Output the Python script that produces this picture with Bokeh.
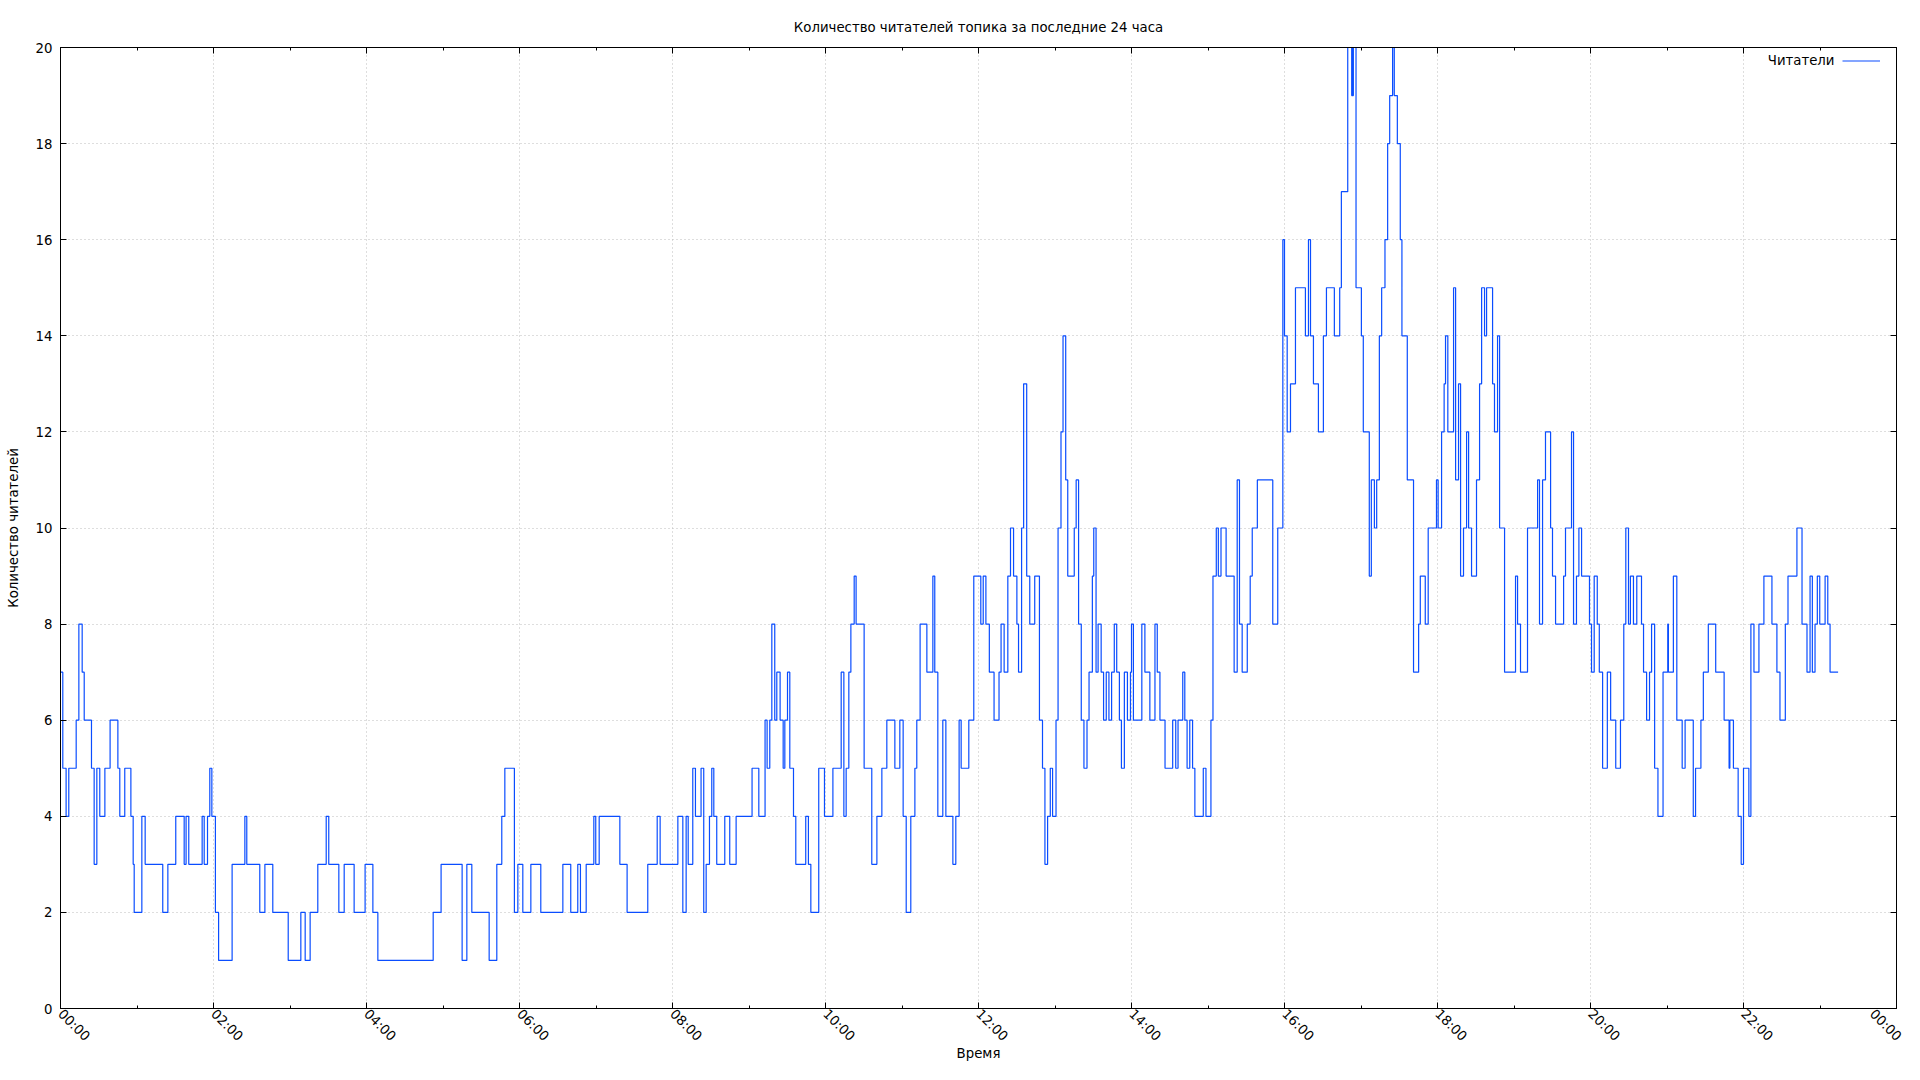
import math
from bokeh.plotting import figure
from bokeh.models import Range1d, LinearAxis, FixedTicker, Legend, LegendItem, Label
from bokeh.embed import file_html
from bokeh.resources import INLINE

# ---------------- data ----------------
chart_title = "Количество читателей топика за последние 24 часа"
x_label = "Время"
y_label = "Количество читателей"
series_name = "Читатели"

hour_ticks = [0, 120, 240, 360, 480, 600, 720, 840, 960, 1080, 1200, 1320, 1440]
hour_labels = ["00:00", "02:00", "04:00", "06:00", "08:00", "10:00", "12:00",
               "14:00", "16:00", "18:00", "20:00", "22:00", "00:00"]
hour_minor = [60, 180, 300, 420, 540, 660, 780, 900, 1020, 1140, 1260, 1380]
y_ticks = [0, 2, 4, 6, 8, 10, 12, 14, 16, 18, 20]

# minutes since 00:00 where the reader count changes
t_min = [
    0, 1.8, 4.4, 6.5, 12.3, 14.4, 17.0, 18.6, 24.3, 26.4, 28.5, 30.8, 34.8, 38.9, 45.0, 46.5,
    50.4, 55.2, 57.0, 57.8, 63.8, 66.4, 80.2, 84.2, 90.4, 97.0, 98.5, 100.6, 111.1, 112.7,
    115.3, 117.1, 118.7, 121.5, 124.0, 134.6, 144.6, 146.1, 156.3, 160.3, 166.5, 178.6,
    188.5, 191.9, 195.8, 201.8, 208.4, 210.4, 218.3, 222.5, 230.3, 238.9, 245.0, 248.9,
    292.3, 298.5, 315.0, 318.7, 322.6, 336.2, 342.2, 346.1, 348.5, 356.0, 358.7, 362.6,
    368.9, 376.7, 394.0, 400.2, 405.7, 407.8, 412.3, 418.3, 419.8, 422.5, 438.7, 444.4,
    460.6, 468.0, 470.3, 484.2, 488.1, 490.7, 492.3, 495.9, 498.0, 502.4, 504.5, 506.4,
    509.0, 510.8, 512.4, 514.7, 521.0, 524.9, 529.9, 542.4, 547.7, 552.6, 554.2, 556.3,
    557.9, 560.2, 561.8, 564.4, 566.8, 568.1, 570.2, 572.0, 574.9, 576.7, 584.5, 586.6,
    588.5, 594.7, 599.2, 605.8, 612.3, 614.4, 616.2, 618.3, 619.9, 622.5, 624.0, 630.3,
    636.3, 640.3, 644.2, 648.1, 654.4, 658.3, 660.9, 663.3, 666.9, 670.1, 671.6, 674.2,
    679.5, 684.2, 685.7, 688.1, 692.0, 694.4, 699.9, 702.2, 704.8, 706.4, 712.4, 716.3,
    721.8, 723.7, 725.8, 728.5, 732.2, 736.1, 737.7, 740.1, 743.0, 745.1, 747.5, 750.1,
    751.4, 753.8, 755.4, 757.8, 760.2, 764.1, 767.8, 770.2, 772.1, 774.2, 776.3, 778.1,
    780.8, 782.4, 784.7, 786.3, 788.4, 790.0, 795.1, 796.6, 798.5, 800.6, 802.7, 805.1,
    806.7, 809.3, 810.4, 812.2, 813.8, 816.2, 818.1, 820.2, 822.3, 824.4, 826.5, 828.4,
    830.5, 832.1, 834.4, 836.8, 839.2, 840.0, 841.5, 848.1, 850.5, 854.4, 858.4, 860.2,
    862.3, 866.3, 872.3, 874.7, 876.5, 880.2, 881.8, 883.6, 885.7, 887.9, 889.7, 896.3,
    898.4, 902.3, 903.9, 906.5, 908.1, 910.2, 914.2, 920.5, 922.9, 924.7, 926.8, 930.8,
    933.1, 934.7, 938.7, 950.8, 954.7, 958.7, 960.0, 962.1, 964.7, 968.6, 976.4, 978.8,
    980.4, 982.7, 986.6, 990.5, 992.9, 999.1, 1003.3, 1004.6, 1009.6, 1012.7, 1013.2, 1013.5,
    1014.0, 1016.1, 1020.3, 1021.8, 1026.5, 1028.1, 1030.5, 1032.3, 1034.4, 1036.2, 1038.8,
    1040.9, 1042.5, 1044.8, 1046.1, 1048.5, 1050.8, 1052.1, 1056.3, 1061.2, 1065.2, 1066.5,
    1070.4, 1072.7, 1079.2, 1080.5, 1083.2, 1085.2, 1086.3, 1088.1, 1092.6, 1094.2, 1096.5,
    1098.1, 1100.4, 1102.8, 1104.4, 1106.7, 1110.6, 1113.0, 1114.6, 1116.9, 1118.5, 1123.2,
    1124.7, 1127.1, 1128.7, 1132.6, 1141.2, 1142.8, 1145.1, 1150.6, 1158.5, 1160.0, 1162.4,
    1164.7, 1168.7, 1170.2, 1172.6, 1178.9, 1180.4, 1185.1, 1186.7, 1189.0, 1190.9, 1193.0,
    1199.2, 1200.8, 1202.9, 1205.3, 1206.9, 1209.5, 1213.2, 1215.8, 1219.8, 1223.5, 1226.1,
    1227.7, 1229.8, 1231.3, 1233.7, 1236.3, 1240.0, 1241.6, 1244.0, 1246.3, 1247.9, 1250.3,
    1252.9, 1256.9, 1260.6, 1261.1, 1265.0, 1267.7, 1271.9, 1274.2, 1280.6, 1282.4, 1286.6,
    1288.5, 1292.4, 1298.2, 1304.8, 1308.7, 1309.3, 1312.1, 1315.8, 1318.2, 1320.0, 1324.2,
    1325.8, 1328.2, 1332.1, 1336.0, 1342.3, 1346.2, 1348.6, 1352.8, 1354.9, 1361.9, 1365.9,
    1369.8, 1372.2, 1374.0, 1376.1, 1377.9, 1379.8, 1384.0, 1386.1, 1387.9, 1394.2,
]
readers = [
    7, 5, 4, 5, 6, 8, 7, 6, 5, 3, 5, 4, 5, 6, 5, 4,
    5, 4, 3, 2, 4, 3, 2, 3, 4, 3, 4, 3, 4, 3,
    4, 5, 4, 2, 1, 3, 4, 3, 2, 3, 2, 1,
    2, 1, 2, 3, 4, 3, 2, 3, 2, 3, 2, 1,
    2, 3, 1, 3, 2, 1, 3, 4, 5, 2, 3, 2,
    3, 2, 3, 2, 3, 2, 3, 4, 3, 4, 3, 2,
    3, 4, 3, 4, 2, 4, 3, 5, 4, 5, 2, 3,
    4, 5, 4, 3, 4, 3, 4, 5, 4, 6, 5, 6,
    8, 6, 7, 6, 5, 6, 7, 5, 4, 3, 4, 3,
    2, 5, 4, 5, 7, 4, 5, 7, 8, 9, 8, 5,
    3, 4, 5, 6, 5, 6, 4, 2, 4, 5, 6, 8,
    7, 9, 7, 4, 6, 4, 3, 4, 6, 5, 6, 9,
    8, 9, 8, 7, 6, 7, 8, 7, 9, 10, 9, 8,
    7, 10, 13, 9, 8, 9, 6, 5, 3, 4, 5, 4,
    6, 10, 12, 14, 11, 9, 10, 11, 8, 6, 5, 6,
    7, 9, 10, 7, 8, 7, 6, 7, 6, 7, 8, 7,
    6, 5, 7, 6, 7, 8, 6, 8, 7, 6, 8, 7,
    6, 5, 6, 5, 6, 7, 6, 5, 6, 5, 4, 5,
    4, 6, 9, 10, 9, 10, 9, 7, 11, 8, 7, 8,
    9, 10, 11, 8, 10, 16, 14, 12, 13, 15, 14, 16,
    14, 13, 12, 14, 15, 14, 15, 17, 20, 19, 20, 19,
    20, 15, 14, 12, 9, 11, 10, 11, 14, 15, 16,
    18, 19, 20, 19, 18, 16, 14, 11, 7, 8, 9,
    8, 10, 11, 10, 12, 13, 14, 12, 15, 11, 13,
    9, 10, 12, 10, 9, 11, 13, 15, 14, 15, 13,
    12, 14, 10, 7, 9, 8, 7, 10, 11, 8, 11,
    12, 10, 9, 8, 9, 10, 12, 8, 9, 10, 9,
    8, 7, 9, 8, 7, 5, 7, 6, 5, 6, 8,
    10, 8, 9, 8, 9, 8, 7, 6, 7, 8, 5,
    4, 7, 8, 7, 9, 6, 5, 6, 4, 5, 6,
    7, 8, 7, 6, 5, 6, 5, 4, 3, 5, 4,
    8, 7, 8, 9, 8, 7, 6, 8, 9, 10, 8,
    7, 9, 7, 8, 9, 8, 9, 8, 7, 7,
]

# ---------------- styling ----------------
FONT = "DejaVu Sans"
FS = "13.3px"
LINE_COLOR = "#0a4dff"
GRID_COLOR = "#bcbcbc"

p = figure(width=1904, height=1064, output_backend="svg", toolbar_location=None,
           x_range=Range1d(0, 1440), y_range=Range1d(0, 20),
           min_border_left=60, min_border_right=8, min_border_top=47, min_border_bottom=40,
           background_fill_color="white", border_fill_color="white")

p.title.text = chart_title
p.title.align = "center"
p.title.text_font = FONT
p.title.text_font_size = FS
p.title.text_font_style = "normal"
p.title.text_color = "black"
p.title.standoff = 25

p.outline_line_color = "black"
p.outline_line_width = 1

r = p.step(t_min, readers, mode="after", line_color=LINE_COLOR, line_width=1.2)

x_ticker = FixedTicker(ticks=hour_ticks, minor_ticks=hour_minor)
y_ticker = FixedTicker(ticks=y_ticks, minor_ticks=[])


def style_axis(ax):
    ax.major_tick_in = 6
    ax.major_tick_out = 0
    ax.minor_tick_in = 3
    ax.minor_tick_out = 0
    ax.axis_line_color = "black"
    ax.major_tick_line_color = "black"
    ax.minor_tick_line_color = "black"
    ax.major_label_text_font = FONT
    ax.major_label_text_font_size = FS
    ax.major_label_text_color = "black"
    ax.axis_label_text_font = FONT
    ax.axis_label_text_font_size = FS
    ax.axis_label_text_font_style = "normal"
    ax.axis_label_text_color = "black"


xa = p.xaxis[0]
xa.ticker = x_ticker
xa.major_label_overrides = {t: lab for t, lab in zip(hour_ticks, hour_labels)}
xa.major_label_orientation = -math.pi / 4
xa.axis_label = x_label
style_axis(xa)
xa.major_label_standoff = 3
xa.axis_label_standoff = -6

ya = p.yaxis[0]
ya.ticker = y_ticker
ya.axis_label = y_label
style_axis(ya)
ya.major_label_standoff = 8
ya.axis_label_standoff = 12

top = LinearAxis(ticker=x_ticker)
style_axis(top)
top.major_label_text_font_size = "0px"
top.major_label_standoff = 0
top.axis_label_standoff = 0
top.major_label_overrides = {t: "" for t in hour_ticks}
p.add_layout(top, "above")

right = LinearAxis(ticker=y_ticker)
style_axis(right)
right.major_label_text_font_size = "0px"
right.major_label_standoff = 0
right.axis_label_standoff = 0
right.major_label_overrides = {t: "" for t in y_ticks}
p.add_layout(right, "right")

p.xgrid.ticker = x_ticker
p.ygrid.ticker = y_ticker
for g in (p.xgrid[0], p.ygrid[0]):
    g.grid_line_color = GRID_COLOR
    g.grid_line_dash = "1 3"
    g.grid_line_width = 1

legend = Legend(items=[LegendItem(label=" ", renderers=[r])], location="top_right",
                glyph_width=38, glyph_height=15, label_standoff=0, label_width=10,
                label_height=15, padding=3, margin=3, spacing=0,
                border_line_alpha=0, background_fill_alpha=0,
                label_text_font=FONT, label_text_font_size=FS)
p.add_layout(legend)

p.add_layout(Label(x=1440, y=20, x_offset=-62, y_offset=-13, text=series_name,
                   text_align="right", text_baseline="middle",
                   text_font=FONT, text_font_size=FS, text_color="black"))

open("out.html", "w").write(file_html(p, INLINE))
